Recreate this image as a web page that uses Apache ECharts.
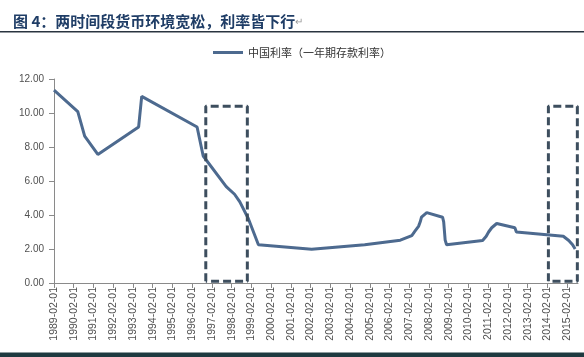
<!DOCTYPE html>
<html><head><meta charset="utf-8">
<script src="https://cdn.jsdelivr.net/npm/echarts@6/dist/echarts.min.js"></script>
<style>html,body{margin:0;padding:0;background:#fff}#c{width:584px;height:357px}</style>
</head><body><div id="c"></div>
<script>
// Rate change dates and one-year deposit rate (%)
const dates = ['1989-02-01','1990-04-15','1990-08-21','1991-04-21','1993-05-15','1993-07-11','1996-05-01','1996-08-23','1997-10-23','1998-03-25','1998-07-01','1998-12-07','1999-06-10','2002-02-21','2004-10-29','2006-08-19','2007-03-18','2007-05-19','2007-07-21','2007-08-22','2007-09-15','2007-12-21','2008-10-09','2008-10-30','2008-11-27','2008-12-23','2010-10-20','2010-12-26','2011-02-09','2011-04-06','2011-07-07','2012-06-08','2012-07-06','2014-11-22','2015-03-01','2015-05-11','2015-06-28'];
const rates = [11.34,10.08,8.64,7.56,9.18,10.98,9.18,7.47,5.67,5.22,4.77,3.78,2.25,1.98,2.25,2.52,2.79,3.06,3.33,3.60,3.87,4.14,3.87,3.60,2.52,2.25,2.50,2.75,3.00,3.25,3.50,3.25,3.00,2.75,2.50,2.25,2.00];
const tickYears = [1989,1990,1991,1992,1993,1994,1995,1996,1997,1998,1999,2000,2001,2002,2003,2004,2005,2006,2007,2008,2009,2010,2011,2012,2013,2014,2015];
// highlighted periods (dashed boxes)
const boxStarts = ['1996-10-10','2014-02-20'];
const boxEnds = ['1998-11-18','2015-08-08'];
const boxTop = 10.4, boxBottom = 0.1;
const axisStart = '1989-02-01', axisEnd = '2015-08-20';
const seriesName = '中国利率（一年期存款利率）';
const title = '图 4：两时间段货币环境宽松，利率皆下行';

// months since 1989-02-01
function mo(s){const p=s.split('-').map(Number);return (p[0]-1989)*12+(p[1]-2)+(p[2]-1)/30.4;}
const tickVals = tickYears.map(y=>mo(y+'-02-01'));
const lineData = dates.map((d,i)=>[mo(d),rates[i]]);
const boxLine = {color:'#3d4e5e',width:3,type:[8,4]};
const boxSeries = boxStarts.map((s,i)=>({
  type:'line', silent:true, symbol:'none', animation:false,
  lineStyle:boxLine,
  data:[[mo(s),boxBottom],[mo(s),boxTop],[mo(boxEnds[i]),boxTop],[mo(boxEnds[i]),boxBottom],[mo(s),boxBottom]]
}));

const chart = echarts.init(document.getElementById('c'));
chart.setOption({
  animation:false,
  textStyle:{fontFamily:'"Liberation Sans","Noto Sans CJK SC",sans-serif'},
  title:{text:title+'{r|↵}',left:8,top:9,textStyle:{fontSize:15,fontWeight:'bold',color:'#1f3d66',fontFamily:'"Noto Sans CJK SC",sans-serif',rich:{r:{fontSize:10,color:'#999',fontWeight:'normal'}}}},
  graphic:[
    {type:'rect',shape:{x:0,y:31,width:584,height:1.5},style:{fill:'#2a3440'}},
    {type:'rect',shape:{x:0,y:352.5,width:584,height:5},style:{fill:'#1e3a40'}}
  ],
  legend:{data:[seriesName],left:208,top:42,icon:'rect',itemWidth:30,itemHeight:3,itemGap:4,
    textStyle:{fontSize:11,color:'#333',fontFamily:'"Noto Sans CJK SC",sans-serif'}},
  grid:{left:54,right:6,top:79,bottom:74,containLabel:false},
  xAxis:{type:'value',min:mo(axisStart),max:mo(axisEnd),
    axisLine:{lineStyle:{color:'#8a8a8a'}},
    axisTick:{show:true,length:5,lineStyle:{color:'#8a8a8a'},customValues:tickVals},
    axisLabel:{rotate:90,fontSize:10.5,color:'#505050',margin:4,customValues:tickVals,
      formatter:v=>(1989+Math.round(v/12))+'-02-01'},
    splitLine:{show:false}},
  yAxis:{type:'value',min:0,max:12,interval:2,
    axisLine:{show:true,lineStyle:{color:'#8a8a8a'}},
    axisTick:{show:true,length:5,lineStyle:{color:'#8a8a8a'}},
    axisLabel:{fontSize:10,color:'#505050',margin:10,formatter:v=>v.toFixed(2)},
    splitLine:{show:false}},
  series:[{name:seriesName,type:'line',data:lineData,showSymbol:false,symbol:'none',
    lineStyle:{color:'#4d6a8f',width:3},itemStyle:{color:'#4d6a8f'}}].concat(boxSeries)
});
</script></body></html>
